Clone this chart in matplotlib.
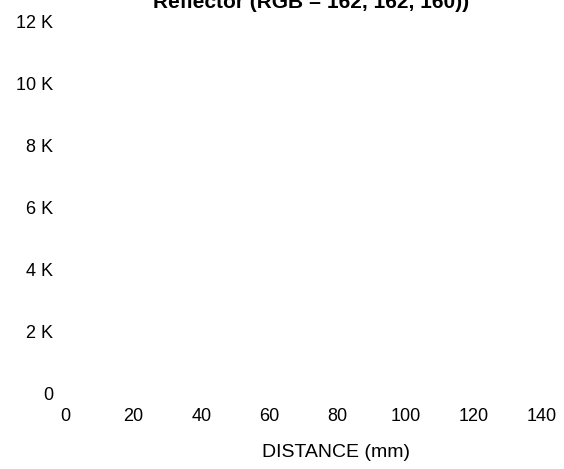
import matplotlib
matplotlib.use("Agg")
import matplotlib.pyplot as plt

plt.rcParams['font.family'] = ['Liberation Sans', 'DejaVu Sans']

title = "Reflector (RGB = 162, 162, 160))"
x_label = "DISTANCE (mm)"
x_ticks = [0, 20, 40, 60, 80, 100, 120, 140]
y_ticks = [0, 2000, 4000, 6000, 8000, 10000, 12000]
y_tick_labels = ["0", "2 K", "4 K", "6 K", "8 K", "10 K", "12 K"]
# no data series are drawn in the reference
distance = []
signal = []

W, H = 564, 469
fig = plt.figure(figsize=(W / 100, H / 100), dpi=100)
x0, x1 = 65.5, 542.0
y0, y1 = 393.0, 21.0
ax = fig.add_axes([x0 / W, 1 - y0 / H, (x1 - x0) / W, (y0 - y1) / H])
ax.plot(distance, signal)
ax.set_xlim(0, 140)
ax.set_ylim(0, 12000)
ax.set_xticks(x_ticks)
ax.set_xticklabels([str(v) for v in x_ticks])
ax.set_yticks(y_ticks)
ax.set_yticklabels(y_tick_labels)
for s in ax.spines.values():
    s.set_visible(False)
ax.tick_params(axis='x', length=0, pad=11, labelsize=13)
ax.tick_params(axis='y', length=0, pad=9, labelsize=13)
ax.set_facecolor('white')

fig.text(311 / W, 1 - 7.5 / H, title, ha='center', va='baseline',
         fontsize=15, fontweight='bold')
fig.text(336 / W, 1 - 457 / H, x_label, ha='center', va='baseline', fontsize=14)

fig.savefig("out.png", dpi=100, facecolor='white')
